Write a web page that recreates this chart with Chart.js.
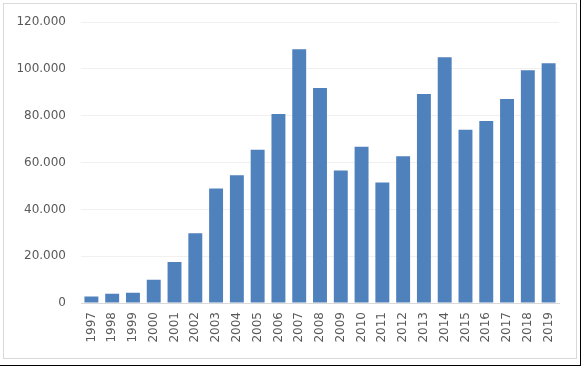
<!DOCTYPE html>
<html>
<head>
<meta charset="utf-8">
<script src="https://cdn.jsdelivr.net/npm/chart.js@4/dist/chart.umd.min.js"></script>
<style>
  html, body { margin: 0; padding: 0; background: #fff; }
  #wrap {
    position: relative; width: 580px; height: 365px;
    border-right: 1px solid #000; border-bottom: 1px solid #000;
  }
  #frame {
    position: absolute; left: 3px; top: 3px; width: 572px; height: 354px;
    border: 1px solid #d9d9d9;
  }
  canvas { position: absolute; left: 0; top: 0; }
</style>
</head>
<body>
<div id="wrap">
  <div id="frame"></div>
  <canvas id="chart" width="580" height="365"></canvas>
</div>
<script>
// values
const years = ['1997', '1998', '1999', '2000', '2001', '2002', '2003', '2004', '2005', '2006', '2007', '2008',
  '2009', '2010', '2011', '2012', '2013', '2014', '2015', '2016', '2017', '2018', '2019'];
const counts = [2800, 3950, 4400, 9900, 17550, 29850, 48950, 54600, 65500, 80800, 108400, 91850,
  56600, 66800, 51500, 62700, 89300, 105000, 74000, 77800, 87200, 99500, 102450];
const yTicks = [0, 20000, 40000, 60000, 80000, 100000, 120000];

const fmt = (v) => String(v).replace(/\B(?=(\d{3})+(?!\d))/g, '.');
const tickFont = { family: "'DejaVu Sans', sans-serif", size: 12 };

const ctx = document.getElementById('chart').getContext('2d');

new Chart(ctx, {
  type: 'bar',
  data: {
    labels: years,
    datasets: [{
      data: counts,
      backgroundColor: '#4f81bd',
      categoryPercentage: 1,
      barPercentage: 0.67
    }]
  },
  options: {
    responsive: false,
    animation: false,
    layout: { padding: { top: 20, right: 21, bottom: 0, left: 0 } },
    plugins: { legend: { display: false }, tooltip: { enabled: false } },
    scales: {
      x: {
        grid: { display: false, drawTicks: false },
        border: { color: '#d9d9d9', width: 1 },
        ticks: {
          color: '#595959',
          font: tickFont,
          minRotation: 90, maxRotation: 90,
          padding: 9
        },
        afterFit: (scale) => { scale.height = 62; }
      },
      y: {
        min: 0, max: 120000,
        afterBuildTicks: (scale) => { scale.ticks = yTicks.map(v => ({ value: v })); },
        grid: { color: '#f0f0f0', drawTicks: false },
        border: { display: false },
        ticks: {
          color: '#595959',
          font: tickFont,
          padding: 15,
          callback: (v) => fmt(v)
        },
        afterFit: (scale) => { scale.width = 81; }
      }
    }
  }
});
</script>
</body>
</html>
